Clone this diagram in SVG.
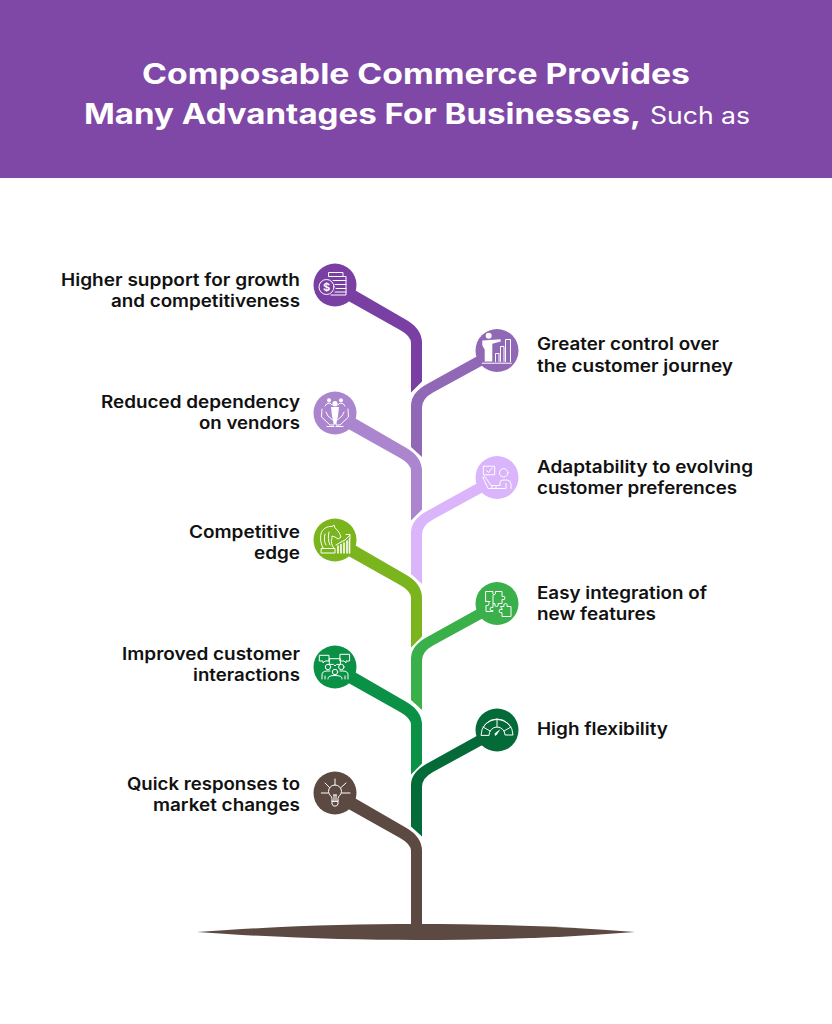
<svg xmlns="http://www.w3.org/2000/svg" xmlns:xlink="http://www.w3.org/1999/xlink" width="832" height="1024" viewBox="0 0 832 1024">
<style>
text{font-family:"Inter","Liberation Sans",sans-serif}
.t{font-size:28px;font-weight:700;fill:#fff}
.s{font-size:24px;font-weight:400;fill:#fff}
.l{font-size:17px;font-weight:600;fill:#111}
.e{text-anchor:end}
.i{fill:none;stroke:#fff;stroke-width:1;stroke-linecap:round;stroke-linejoin:round}
.f{fill:#fff;stroke:none}
</style>
<defs>
<path id="lb" d="M8,-1.7 L71.5,35 Q87,44 87,58 L87,96.5 L76,107.5 L76,58 Q76,51 65,45 L0,8.4 Z"/>
<path id="rb" d="M-5,-2.5 L-69,33 Q-86,42 -86,55 L-86,96.5 L-75,106.5 L-75,57 Q-75,48 -64,42 L1,6.5 Z"/>
</defs>
<rect id="header" width="832" height="178" fill="#7f47a6"/>
<g id="title">
<text class="t" x="142" y="83.5" textLength="548" lengthAdjust="spacingAndGlyphs">Composable Commerce Provides</text>
<text class="t" x="84" y="124" textLength="557" lengthAdjust="spacingAndGlyphs">Many Advantages For Businesses,</text>
<text class="s" x="650" y="124" textLength="100" lengthAdjust="spacingAndGlyphs">Such as</text>
</g>
<g id="connectors">
<path d="M197,932 C280,926 350,924 416,924 C485,924 560,926 635,932 C560,938 485,940 416,940 C350,940 280,938 197,932 Z" fill="#5c4a42"/>
<path d="M343,791.3 L406.5,828 Q422,837 422,851 L422,930 L411,930 L411,851 Q411,844 400,838 L335,801.4 Z" fill="#5c4a42"/>
<use xlink:href="#lb" href="#lb" x="335" y="285" fill="#7a3fa3"/>
<use xlink:href="#rb" href="#rb" x="497" y="350.5" fill="#9068b5"/>
<use xlink:href="#lb" href="#lb" x="335" y="413" fill="#ab85cd"/>
<use xlink:href="#rb" href="#rb" x="497" y="477.5" fill="#dab5fb"/>
<use xlink:href="#lb" href="#lb" x="335" y="540" fill="#7ab51d"/>
<use xlink:href="#rb" href="#rb" x="497" y="603.5" fill="#39b04a"/>
<use xlink:href="#lb" href="#lb" x="335" y="667" fill="#0a9145"/>
<use xlink:href="#rb" href="#rb" x="497" y="730" fill="#046a38"/>
</g>
<g id="node-growth">
<circle cx="335" cy="285" r="21.5" fill="#7a3fa3"/>
<g class="i" transform="translate(335,285)">
<path d="M-6,-12.5 H8 V-8.5 H-6 Z M-6,-8.5 H11 V10 H-4 M-2,-4.5 H11 M0,-0.5 H11 M1,3.5 H11 M0,7 H11"/>
<circle cx="-8.5" cy="2" r="7.5" fill="#7a3fa3"/>
<text x="-8.5" y="6" text-anchor="middle" font-size="11" font-weight="700" stroke="none" fill="#fff">$</text>
</g>
<text class="l e" x="300" y="286" textLength="239" lengthAdjust="spacingAndGlyphs">Higher support for growth</text>
<text class="l e" x="300" y="307" textLength="189" lengthAdjust="spacingAndGlyphs">and competitiveness</text>
</g>
<g id="node-control">
<circle cx="497" cy="350.5" r="21.5" fill="#9068b5"/>
<g class="i" transform="translate(497,350.5)">
<circle class="f" cx="-8.3" cy="-14.7" r="3"/>
<path class="f" d="M-14.7,-10 L3.7,-11.3 V-9 L-4.7,-6.7 V11 H-12.3 V-0.7 L-14.7,-5.3 Z"/>
<path d="M-1.5,11 V3 H2 V11 M3.5,11 V-4 H7 V11 M8.5,11 V-11 H13.5 V11 M-14.7,12.7 H14.3"/>
</g>
<text class="l" x="537" y="350" textLength="182" lengthAdjust="spacingAndGlyphs">Greater control over</text>
<text class="l" x="537" y="372" textLength="196" lengthAdjust="spacingAndGlyphs">the customer journey</text>
</g>
<g id="node-vendors">
<circle cx="335" cy="413" r="21.5" fill="#ab85cd"/>
<g class="i" transform="translate(335,413)">
<circle class="f" cx="0" cy="-9.3" r="2.6"/>
<path class="f" d="M-4,-6 H4 L3,3 L1,11 H-1 L-3,3 Z"/>
<circle class="f" cx="-6" cy="-12.7" r="2"/>
<circle class="f" cx="6" cy="-12.7" r="2"/>
<path d="M-10,-7 Q-9,-10 -5,-10 L-3,-8 M10,-7 Q9,-10 5,-10 L3,-8"/>
<path d="M-13,-4 L-13.5,4 L-5,12 H-1 V8 L-7,3 L-9,-1 M13,-4 L13.5,4 L5,12 H1 V8 L7,3 L9,-1"/>
<path d="M-8,13.5 H-1 M8,13.5 H1"/>
</g>
<text class="l e" x="300" y="408" textLength="199" lengthAdjust="spacingAndGlyphs">Reduced dependency</text>
<text class="l e" x="300" y="429" textLength="101" lengthAdjust="spacingAndGlyphs">on vendors</text>
</g>
<g id="node-adaptability">
<circle cx="497" cy="477.5" r="21.5" fill="#dab5fb"/>
<g class="i" transform="translate(497,477.5)">
<rect x="-13.3" y="-11.3" width="11" height="8.6"/>
<path d="M-10.5,-7 L-8.5,-5 L-5,-9.5"/>
<circle cx="6.7" cy="-4.7" r="4.2"/>
<path d="M-14,0 L-9,11 H8 M-14,0 L-12,-1 L-6,8 H3 V5 Q3,2.5 6,2.5 H10 Q14,3 14,7 V11 M-5,10.5 V8 M-1,10.5 V8 M9,6 V11"/>
</g>
<text class="l" x="537" y="473" textLength="216" lengthAdjust="spacingAndGlyphs">Adaptability to evolving</text>
<text class="l" x="537" y="494" textLength="200" lengthAdjust="spacingAndGlyphs">customer preferences</text>
</g>
<g id="node-edge">
<circle cx="335" cy="540" r="21.5" fill="#7ab51d"/>
<g class="i" transform="translate(335,540)">
<path d="M-13.5,8.5 H0 V13 H-13.5 Z M-11.5,8.5 C-14.5,4 -15,-2 -14,-6 C-13,-11 -8,-14 -3,-13.5 L-1,-15 L0,-12 C3,-10 5,-6 6,-3 L3,-1 L0,-3 L-3,-4 C-3,0 -5,3 -1,8.5"/>
<path d="M-10,-6 C-11,-2 -11,2 -9,5 M-6,-8 C-7,-4 -7,1 -5,5"/>
<path d="M1,5 L6,2 L10,0 L15,-5 M11,-5.5 H15 V-1.5"/>
<path d="M3,13 V6 M6,13 V4.5 M9,13 V3 M12,13 V1 M14.5,13 V-1" stroke-width="1.6"/>
</g>
<text class="l e" x="300" y="538" textLength="111" lengthAdjust="spacingAndGlyphs">Competitive</text>
<text class="l e" x="300" y="559" textLength="46" lengthAdjust="spacingAndGlyphs">edge</text>
</g>
<g id="node-integration">
<circle cx="497" cy="603.5" r="21.5" fill="#39b04a"/>
<g class="i" transform="translate(497,603.5)">
<path d="M-11,-12 H-4 Q-5,-9 -3,-8.5 Q-1,-9 -1.5,-12 H5 V-7 Q8,-8 8,-5.5 Q8,-3 5,-4 V0 H1 Q2,3 -0.5,3 Q-3,3 -2,0 H-4 V4 Q-7,3 -7,5.5 Q-7,8 -4,7 V8 H-11 V2 Q-8,3 -8,0 Q-8,-3 -11,-2 Z"/>
<path d="M-11,-2 H-7 M-4,-8 V0"/>
<path d="M4,3 H7 Q6,0 8.5,0 Q11,0 10,3 H14 V13 H5 V9 Q2,10 2,7.5 Q2,5 5,6 Z"/>
</g>
<text class="l" x="537" y="599" textLength="170" lengthAdjust="spacingAndGlyphs">Easy integration of</text>
<text class="l" x="537" y="620" textLength="119" lengthAdjust="spacingAndGlyphs">new features</text>
</g>
<g id="node-interactions">
<circle cx="335" cy="667" r="21.5" fill="#0a9145"/>
<g class="i" transform="translate(335,667)">
<path d="M-15.3,-11.7 H-6 V-6 H-10 L-12,-4 V-6 H-15.3 Z M5.3,-12.7 H14.6 V-6 H11 V-4 L9,-6 H5.3 Z M-5.3,-8.3 H5.4 V-2.6 H1.5 L0,-1 L-1.5,-2.6 H-5.3 Z"/>
<circle cx="-7" cy="0" r="2.7"/><circle cx="6.3" cy="0" r="2.7"/><circle cx="0" cy="5" r="2.7"/>
<path d="M-13,12 V8 Q-13,4 -8,4 H-5 M13,12 V8 Q13,4 8,4 H5 M-7,12 V11.5 Q-7,8.5 0,8.5 Q7,8.5 7,11.5 V12 M-10,12 V9 M10,12 V9"/>
</g>
<text class="l e" x="300" y="660" textLength="178" lengthAdjust="spacingAndGlyphs">Improved customer</text>
<text class="l e" x="300" y="681" textLength="107" lengthAdjust="spacingAndGlyphs">interactions</text>
</g>
<g id="node-flexibility">
<circle cx="497" cy="730" r="21.5" fill="#046a38"/>
<g class="i" transform="translate(497,730)">
<path d="M-16,5 A16,16 0 0 1 16,5 H8 A8,8 0 0 0 -8,5 Z"/>
<path d="M-13,-4 A16,16 0 0 1 13,-4 M-14,-3 L-7,1 M14,-3 L7,1 M0,-11 V-3"/>
<path class="f" d="M3.5,-1 L0,4.5 L-2,6 L-2.5,3.5 Z"/>
</g>
<text class="l" x="537" y="735" textLength="131" lengthAdjust="spacingAndGlyphs">High flexibility</text>
</g>
<g id="node-responses">
<circle cx="335" cy="793" r="21.5" fill="#5c4a42"/>
<g class="i" transform="translate(335,793)">
<path d="M-13.7,0 H-7 M7,0 H15 M0,-14 V-8 M-10,-10 L-5.5,-5.5 M11,-10 L6,-5.5"/>
<path d="M-3,8 V5.5 C-3,3 -6.5,2 -6.5,-1.5 A6.5,6.5 0 0 1 6.5,-1.5 C6.5,2 3,3 3,5.5 V8 Z M-3,8 V11 L-1.5,13 H1.5 L3,11 V8 M-1,8 V2 M1,8 V2 M-1.5,2 H1.5"/>
</g>
<text class="l e" x="300" y="790" textLength="173" lengthAdjust="spacingAndGlyphs">Quick responses to</text>
<text class="l e" x="300" y="811" textLength="147" lengthAdjust="spacingAndGlyphs">market changes</text>
</g>
</svg>
